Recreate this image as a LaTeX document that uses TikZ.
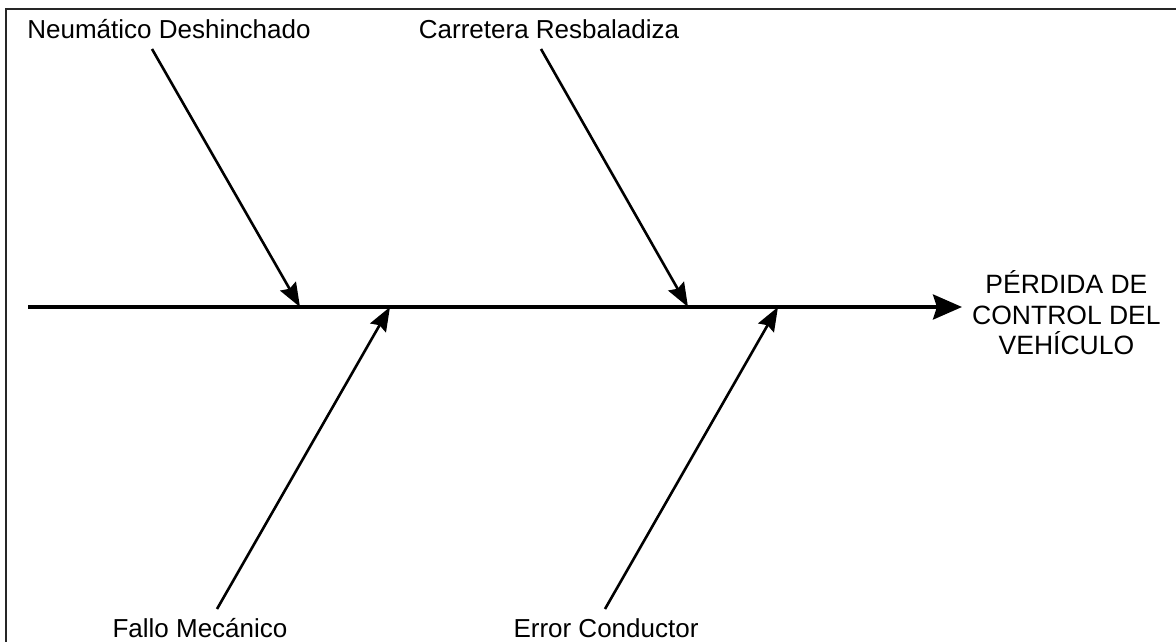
\documentclass[tikz,border=0pt]{standalone}
\usepackage{fontspec}
\setmainfont{Liberation Sans}
\usepackage{tikz}
\usetikzlibrary{arrows.meta}

\begin{document}
\begin{tikzpicture}[x=1pt,y=-1pt,
    cause/.style={inner sep=0pt, anchor=base, font=\fontsize{26}{30.5}\selectfont},
    effect/.style={inner sep=0pt, align=center, font=\fontsize{26.5}{30.5}\selectfont},
    spine/.style={line width=3.6pt, -{Stealth[length=29pt,width=25pt,inset=4pt]}},
    bone/.style={line width=2.6pt, -{Stealth[length=24pt,width=18pt,inset=3pt]}}]
    \useasboundingbox (0,0) rectangle (1176,642);
    \draw[line width=2.4pt, black!85] (6,642) -- (6,9) -- (1176,9);

    \node[cause] (neum) at (169,39) {Neumático Deshinchado};
    \node[cause] (carr) at (549,39) {Carretera Resbaladiza};
    \node[cause] (fallo) at (200,637) {Fallo Mecánico};
    \node[cause] (error) at (606,637) {Error Conductor};
    \node[effect, anchor=west] (perd) at (972,313) {PÉRDIDA DE\\CONTROL DEL\\VEHÍCULO};

    \coordinate (tail) at (28,307);
    \coordinate (n1) at (152,49);
    \coordinate (n2) at (541,49);
    \coordinate (n3) at (217,609);
    \coordinate (n4) at (605,609);
    \coordinate (h1) at (300,307);
    \coordinate (h2) at (688,307);
    \coordinate (h3) at (390,307);
    \coordinate (h4) at (778,307);

    \draw[spine] (tail) -- ([xshift=-10pt]tail -| perd.west);
    \draw[bone] (n1) -- (h1);
    \draw[bone] (n2) -- (h2);
    \draw[bone] (n3) -- (h3);
    \draw[bone] (n4) -- (h4);
\end{tikzpicture}
\end{document}
